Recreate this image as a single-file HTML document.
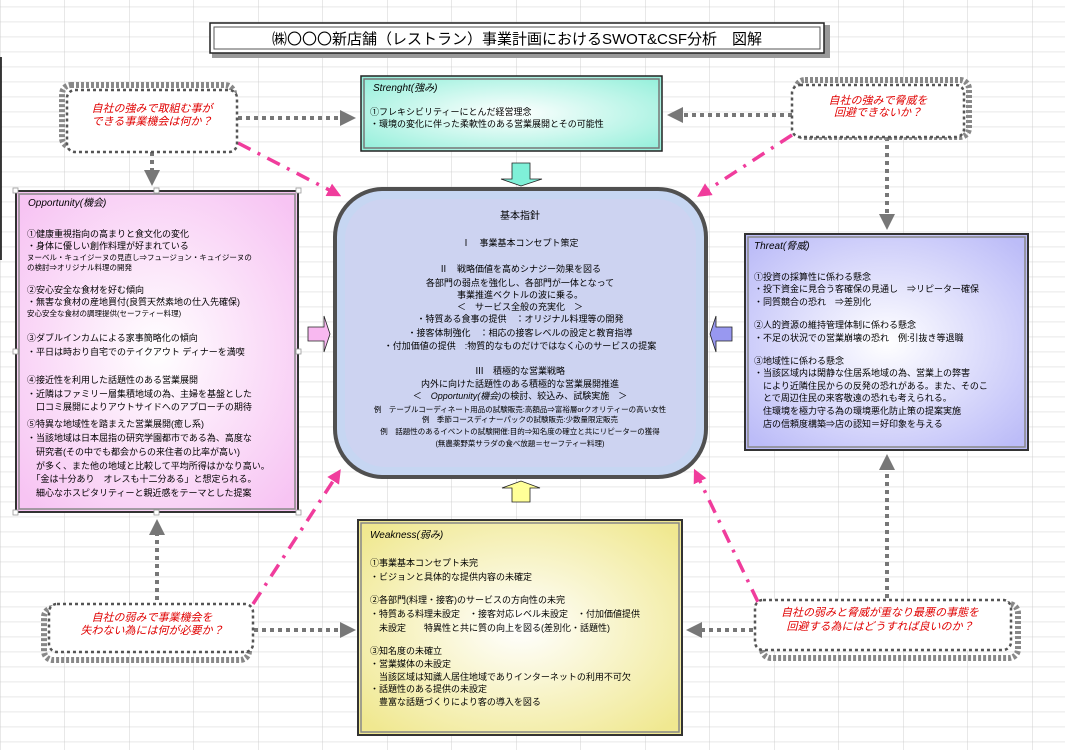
<!DOCTYPE html>
<html><head><meta charset="utf-8"><style>
html,body{margin:0;padding:0;background:#fff}
svg{display:block}
text{font-family:"Liberation Sans","Noto Sans CJK JP",sans-serif;font-size:9px;fill:#000}
.t{font-style:italic;font-size:10px}
.s{font-size:7.5px}
.r{fill:#e00000;font-style:italic;font-size:11px}
</style></head><body>
<svg width="1065" height="750" viewBox="0 0 1065 750" xmlns="http://www.w3.org/2000/svg">
<defs>
<pattern id="grid" width="64.5" height="15" patternUnits="userSpaceOnUse" x="0" y="6.7">
<path d="M0 0H64.5M0 0V15" stroke="#d0d0d0" stroke-width="1" fill="none"/>
</pattern>
<radialGradient id="gp" cx="50%" cy="50%" r="65%"><stop offset="0" stop-color="#fff"/><stop offset="1" stop-color="#f7c4f3"/></radialGradient>
<radialGradient id="gt" cx="50%" cy="50%" r="65%"><stop offset="0" stop-color="#fff"/><stop offset="1" stop-color="#bcbcf8"/></radialGradient>
<radialGradient id="gw" cx="50%" cy="50%" r="65%"><stop offset="0" stop-color="#fff"/><stop offset="1" stop-color="#f0e890"/></radialGradient>
<radialGradient id="gs" cx="50%" cy="50%" r="65%"><stop offset="0" stop-color="#fff"/><stop offset="1" stop-color="#98f0dc"/></radialGradient>
<marker id="ag" markerWidth="4" markerHeight="4" refX="2" refY="2" orient="auto" markerUnits="strokeWidth"><path d="M0 0L4 2L0 4Z" fill="#777"/></marker>
<marker id="ap" markerWidth="4" markerHeight="4" refX="2" refY="2" orient="auto" markerUnits="strokeWidth"><path d="M0 0L4 2L0 4Z" fill="#f03c9c"/></marker>
</defs>
<rect width="1065" height="750" fill="url(#grid)"/>
<line x1="1" y1="57" x2="1" y2="260" stroke="#000" stroke-width="1.5"/>

<rect x="212" y="25" width="618" height="33" fill="#999"/>
<rect x="210" y="23" width="614" height="30" fill="#fff" stroke="#222" stroke-width="1.5"/>
<rect x="214" y="27" width="606" height="22" fill="#fff" stroke="#555" stroke-width="1"/>
<text x="517" y="44" text-anchor="middle" style="font-size:15px">㈱〇〇〇新店舗（レストラン）事業計画におけるSWOT&amp;CSF分析　図解</text>

<g stroke="#777" stroke-width="4" stroke-dasharray="4,4" fill="none">
<line x1="238" y1="118" x2="348" y2="118" marker-end="url(#ag)"/>
<line x1="152" y1="152" x2="152" y2="178" marker-end="url(#ag)"/>
<line x1="792" y1="115" x2="675" y2="115" marker-end="url(#ag)"/>
<line x1="887" y1="137" x2="887" y2="222" marker-end="url(#ag)"/>
<line x1="157" y1="600" x2="157" y2="527" marker-end="url(#ag)"/>
<line x1="254" y1="630" x2="348" y2="630" marker-end="url(#ag)"/>
<line x1="753" y1="630" x2="694" y2="630" marker-end="url(#ag)"/>
<line x1="887" y1="598" x2="887" y2="462" marker-end="url(#ag)"/>
</g>
<g stroke="#f03c9c" stroke-width="3.5" stroke-dasharray="14,8,3,8" fill="none">
<line x1="238" y1="143" x2="335" y2="193" marker-end="url(#ap)"/>
<line x1="792" y1="135" x2="703" y2="193" marker-end="url(#ap)"/>
<line x1="253" y1="604" x2="337" y2="475" marker-end="url(#ap)"/>
<line x1="758" y1="602" x2="697" y2="475" marker-end="url(#ap)"/>
</g>

<g fill="#fff">
<rect x="62" y="85" width="172" height="62" rx="9" fill="none" stroke="#888" stroke-width="6" stroke-dasharray="3,2"/>
<rect x="67" y="90" width="170" height="62" rx="8" stroke="#555" stroke-width="2.5" stroke-dasharray="3,3"/>
<rect x="796" y="80" width="173" height="57" rx="9" fill="none" stroke="#888" stroke-width="6" stroke-dasharray="3,2"/>
<rect x="792" y="85" width="172" height="52" rx="8" stroke="#555" stroke-width="2.5" stroke-dasharray="3,3"/>
<rect x="44" y="608" width="205" height="52" rx="9" fill="none" stroke="#888" stroke-width="6" stroke-dasharray="3,2"/>
<rect x="49" y="604" width="204" height="48" rx="8" stroke="#555" stroke-width="2.5" stroke-dasharray="3,3"/>
<rect x="762" y="604" width="256" height="54" rx="9" fill="none" stroke="#888" stroke-width="6" stroke-dasharray="3,2"/>
<rect x="755" y="600" width="256" height="50" rx="8" stroke="#555" stroke-width="2.5" stroke-dasharray="3,3"/>
</g>
<text class="r" x="152" y="112" text-anchor="middle">自社の強みで取組む事が</text>
<text class="r" x="152" y="125" text-anchor="middle">できる事業機会は何か？</text>
<text class="r" x="878" y="104" text-anchor="middle">自社の強みで脅威を</text>
<text class="r" x="878" y="116" text-anchor="middle">回避できないか？</text>
<text class="r" x="152" y="621" text-anchor="middle">自社の弱みで事業機会を</text>
<text class="r" x="152" y="634" text-anchor="middle">失わない為には何が必要か？</text>
<text class="r" x="880" y="616" text-anchor="middle">自社の弱みと脅威が重なり最悪の事態を</text>
<text class="r" x="880" y="630" text-anchor="middle">回避する為にはどうすれば良いのか？</text>

<rect x="361" y="76" width="301" height="75" fill="url(#gs)" stroke="#222" stroke-width="1.5"/>
<rect x="364" y="79" width="295" height="69" fill="none" stroke="#777" stroke-width="1.5"/>
<text class="t" x="373" y="91">Strenght(強み)</text>
<text x="370" y="115">①フレキシビリティーにとんだ経営理念</text>
<text x="370" y="127">・環境の変化に伴った柔軟性のある営業展開とその可能性</text>

<rect x="16" y="191" width="282" height="321" fill="url(#gp)" stroke="#333" stroke-width="2"/>
<rect x="19" y="194" width="276" height="315" fill="none" stroke="#888" stroke-width="1.5"/>
<g fill="#fff" stroke="#999" stroke-width="0.8"><rect x="13" y="188" width="5" height="5"/><rect x="154" y="188" width="5" height="5"/><rect x="296" y="188" width="5" height="5"/><rect x="13" y="349" width="5" height="5"/><rect x="296" y="349" width="5" height="5"/><rect x="13" y="510" width="5" height="5"/><rect x="154" y="510" width="5" height="5"/><rect x="296" y="510" width="5" height="5"/></g>
<text class="t" x="28" y="206">Opportunity(機会)</text>
<text x="27" y="237">①健康重視指向の高まりと食文化の変化</text>
<text x="27" y="249">・身体に優しい創作料理が好まれている</text>
<text class="s" x="27" y="260">ヌーベル・キュイジーヌの見直し⇒フュージョン・キュイジーヌの</text>
<text class="s" x="27" y="270">の検討⇒オリジナル料理の開発</text>
<text x="27" y="293">②安心安全な食材を好む傾向</text>
<text x="27" y="305">・無害な食材の産地買付(良質天然素地の仕入先確保)</text>
<text class="s" x="27" y="316">安心安全な食材の調理提供(セーフティー料理)</text>
<text x="27" y="341">③ダブルインカムによる家事簡略化の傾向</text>
<text x="27" y="355">・平日は時おり自宅でのテイクアウト ディナーを満喫</text>
<text x="27" y="383">④接近性を利用した話題性のある営業展開</text>
<text x="27" y="397">・近隣はファミリー層集積地域の為、主婦を基盤とした</text>
<text x="27" y="410">　口コミ展開によりアウトサイドへのアプローチの期待</text>
<text x="27" y="427">⑤特異な地域性を踏まえた営業展開(癒し系)</text>
<text x="27" y="441">・当該地域は日本屈指の研究学園都市である為、高度な</text>
<text x="27" y="455">　研究者(その中でも都会からの来住者の比率が高い)</text>
<text x="27" y="469">　が多く、また他の地域と比較して平均所得はかなり高い。</text>
<text x="27" y="482">　「金は十分あり　オレスも十二分ある」と想定られる。</text>
<text x="27" y="496">　細心なホスピタリティーと親近感をテーマとした提案</text>

<rect x="745" y="234" width="283" height="216" fill="url(#gt)" stroke="#333" stroke-width="2"/>
<rect x="748" y="237" width="277" height="210" fill="none" stroke="#888" stroke-width="1.5"/>
<text class="t" x="754" y="249">Threat(脅威)</text>
<text x="754" y="280">①投資の採算性に係わる懸念</text>
<text x="754" y="292">・投下資金に見合う客確保の見通し　⇒リピーター確保</text>
<text x="754" y="305">・同質競合の恐れ　⇒差別化</text>
<text x="754" y="328">②人的資源の維持管理体制に係わる懸念</text>
<text x="754" y="341">・不足の状況での営業崩壊の恐れ　例:引抜き等退職</text>
<text x="754" y="364">③地域性に係わる懸念</text>
<text x="754" y="376">・当該区域内は閑静な住居系地域の為、営業上の弊害</text>
<text x="754" y="389">　により近隣住民からの反発の恐れがある。また、そのこ</text>
<text x="754" y="401">　とで周辺住民の来客敬遠の恐れも考えられる。</text>
<text x="754" y="414">　住環境を極力守る為の環境悪化防止策の提案実施</text>
<text x="754" y="427">　店の信頼度構築⇒店の認知＝好印象を与える</text>

<rect x="358" y="520" width="324" height="215" fill="url(#gw)" stroke="#333" stroke-width="2"/>
<rect x="361" y="523" width="318" height="209" fill="none" stroke="#888" stroke-width="1.5"/>
<text class="t" x="370" y="538">Weakness(弱み)</text>
<text x="370" y="566">①事業基本コンセプト未完</text>
<text x="370" y="580">・ビジョンと具体的な提供内容の未確定</text>
<text x="370" y="603">②各部門(料理・接客)のサービスの方向性の未完</text>
<text x="370" y="617">・特質ある料理未設定　・接客対応レベル未設定　・付加価値提供</text>
<text x="370" y="631">　未設定　　特異性と共に質の向上を図る(差別化・話題性)</text>
<text x="370" y="654">③知名度の未確立</text>
<text x="370" y="667">・営業媒体の未設定</text>
<text x="370" y="680">　当該区域は知識人居住地域でありインターネットの利用不可欠</text>
<text x="370" y="692">・話題性のある提供の未設定</text>
<text x="370" y="705">　豊富な話題づくりにより客の導入を図る</text>

<rect x="335" y="189" width="371" height="288" rx="48" fill="#c6d6f2" stroke="#505050" stroke-width="4"/>
<rect x="345" y="199" width="351" height="268" rx="40" fill="#d8d0f0" opacity="0.4"/>
<g text-anchor="middle">
<text x="520" y="219" style="font-size:10px">基本指針</text>
<text x="520" y="246">Ⅰ　事業基本コンセプト策定</text>
<text x="520" y="272">Ⅱ　戦略価値を高めシナジー効果を図る</text>
<text x="520" y="286">各部門の弱点を強化し、各部門が一体となって</text>
<text x="520" y="298">事業推進ベクトルの波に乗る。</text>
<text x="520" y="310">＜　サービス全般の充実化　＞</text>
<text x="520" y="322">・特質ある食事の提供　：オリジナル料理等の開発</text>
<text x="520" y="336">・接客体制強化　：相応の接客レベルの設定と教育指導</text>
<text x="520" y="349">・付加価値の提供　:物質的なものだけではなく心のサービスの提案</text>
<text x="520" y="374">Ⅲ　積極的な営業戦略</text>
<text x="520" y="387">内外に向けた話題性のある積極的な営業展開推進</text>
<text x="520" y="399">＜　<tspan font-style="italic">Opportunity(機会)</tspan>の検討、絞込み、試験実施　＞</text>
<text class="s" x="520" y="412">例　テーブルコーディネート用品の試験販売:高額品⇒富裕層orクオリティーの高い女性</text>
<text class="s" x="520" y="422">例　季節コースディナーパックの試験販売:少数量限定販売</text>
<text class="s" x="520" y="434">例　話題性のあるイベントの試験開催:目的⇒知名度の確立と共にリピーターの獲得</text>
<text class="s" x="520" y="446">(無農薬野菜サラダの食べ放題＝セーフティー料理)</text>
</g>

<path d="M512 163H530V179H542L521 186L501 179H512Z" fill="#7ff0d8" stroke="#222" stroke-width="0.8"/>
<path d="M308 327H324V316L330 334L324 352V341H308Z" fill="#f8b8f0" stroke="#222" stroke-width="0.8"/>
<path d="M732 327H716V316L710 334L716 352V341H732Z" fill="#9898f0" stroke="#222" stroke-width="0.8"/>
<path d="M512 502H530V488H540L521 481L502 488H512Z" fill="#ffff98" stroke="#222" stroke-width="0.8"/>
</svg>
</body></html>
